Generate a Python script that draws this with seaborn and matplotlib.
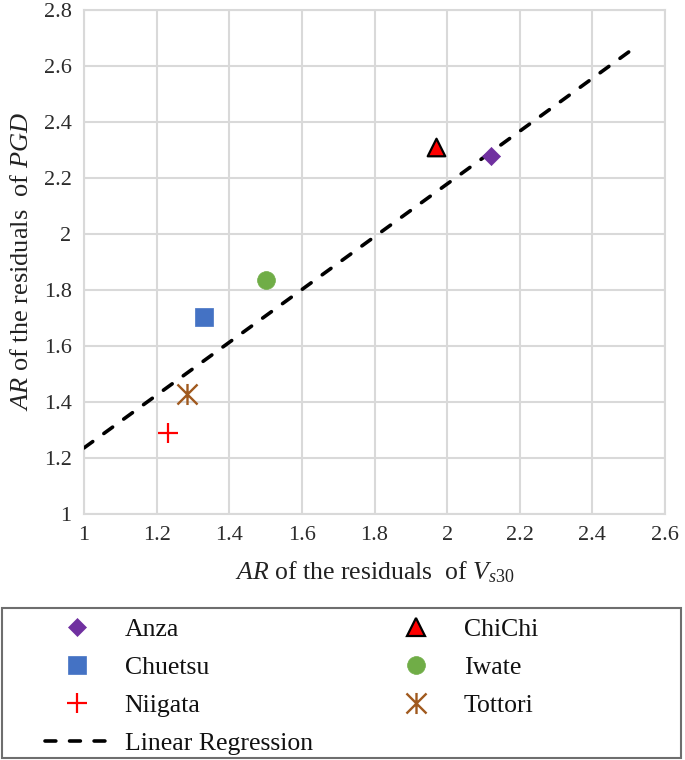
import numpy as np
import pandas as pd
import matplotlib
matplotlib.use("Agg")
import matplotlib.pyplot as plt
from matplotlib.path import Path
from matplotlib.patches import Rectangle
from matplotlib.lines import Line2D
from matplotlib.ticker import FormatStrFormatter
import seaborn as sns

# ---- data ----
events = ["Anza", "ChiChi", "Chuetsu", "Iwate", "Niigata", "Tottori"]
ar_vs30 = [2.12, 1.97, 1.33, 1.50, 1.23, 1.285]
ar_pgd = [2.28, 2.31, 1.705, 1.835, 1.29, 1.43]
reg_x = [1.0, 2.5]
reg_y = [1.236, 2.65]
x_ticks = [1.0, 1.2, 1.4, 1.6, 1.8, 2.0, 2.2, 2.4, 2.6]
y_ticks = [1.0, 1.2, 1.4, 1.6, 1.8, 2.0, 2.2, 2.4, 2.6, 2.8]
legend_order = ["Anza", "Chuetsu", "Niigata", "Linear Regression", "ChiChi", "Iwate", "Tottori"]

# ---- styles ----
star_path = Path([(-1, -1), (1, 1), (-1, 1), (1, -1), (0, -1.05), (0, 1.05)],
                 [Path.MOVETO, Path.LINETO, Path.MOVETO, Path.LINETO, Path.MOVETO, Path.LINETO])
styles = {
    "Anza":    dict(marker="D", color="#7030A0", edgecolor="#7030A0", s=85, linewidth=0.5),
    "ChiChi":  dict(marker="^", color="#FF0000", edgecolor="#000000", s=160, linewidth=1.6),
    "Chuetsu": dict(marker="s", color="#4472C4", edgecolor="#4472C4", s=160, linewidth=0.5),
    "Iwate":   dict(marker="o", color="#70AD47", edgecolor="#70AD47", s=165, linewidth=0.5),
    "Niigata": dict(marker="+", color="#FF0000", edgecolor="#FF0000", s=200, linewidth=1.6),
    "Tottori": dict(marker=star_path, color="#A0591E", edgecolor="#A0591E", s=230, linewidth=1.7),
}

sns.set_style("white")
plt.rcParams["font.family"] = ["Liberation Serif", "DejaVu Serif"]
plt.rcParams["mathtext.fontset"] = "custom"
plt.rcParams["mathtext.rm"] = "Liberation Serif"
plt.rcParams["mathtext.it"] = "Liberation Serif:italic"

fig = plt.figure(figsize=(6.85, 7.6), dpi=100)
ax = fig.add_axes([84 / 685, 1 - 514 / 760, (665 - 84) / 685, (514 - 10) / 760])

df = pd.DataFrame({"event": events, "x": ar_vs30, "y": ar_pgd})

# regression line
sns.lineplot(x=reg_x, y=reg_y, ax=ax, color="black", linewidth=2.6,
             linestyle=(0, (3.0, 3.796)), dash_capstyle="round",
             label="Linear Regression", zorder=3)

for ev in events:
    sub = df[df["event"] == ev]
    st = styles[ev]
    sns.scatterplot(data=sub, x="x", y="y", ax=ax, marker=st["marker"],
                    color=st["color"], edgecolor=st["edgecolor"], s=st["s"],
                    linewidth=st["linewidth"], label=ev, zorder=4, legend=False)

ax.set_xlim(1.0, 2.6)
ax.set_ylim(1.0, 2.8)
ax.set_xticks(x_ticks)
ax.set_yticks(y_ticks)
ax.xaxis.set_major_formatter(FormatStrFormatter("%g"))
ax.yaxis.set_major_formatter(FormatStrFormatter("%g"))
ax.grid(True, color="#D9D9D9", linewidth=1.5)
ax.set_axisbelow(True)
for sp in ax.spines.values():
    sp.set_color("#D9D9D9")
    sp.set_linewidth(1.5)
ax.tick_params(axis="both", length=0, labelsize=16, colors="#2b2b2b")
ax.tick_params(axis="y", pad=9)
ax.tick_params(axis="x", pad=9)

ax.set_xlabel(r"$\mathit{AR}$ of the residuals  of $\mathit{V}_{\mathit{s30}}$",
              fontsize=18.5, labelpad=10, color="#222222")
ax.set_ylabel(r"$\mathit{AR}$ of the residuals  of $\mathit{PGD}$",
              fontsize=19, labelpad=8, color="#222222")
if ax.get_legend() is not None:
    ax.get_legend().remove()

# legend
h, l = ax.get_legend_handles_labels()
hd = dict(zip(l, h))
proxies = {}
for ev in events:
    st = styles[ev]
    proxies[ev] = Line2D([], [], linestyle="none", marker=st["marker"],
                         markerfacecolor=st["color"], markeredgecolor=st["edgecolor"],
                         markersize=np.sqrt(st["s"]), markeredgewidth=st["linewidth"],
                         color=st["color"])
proxies["Linear Regression"] = hd["Linear Regression"]
handles = [proxies[k] for k in legend_order]

fig.legend(handles, legend_order, loc="upper left",
           bbox_to_anchor=(45 / 685, 1 - 618 / 760), ncol=2, frameon=False,
           fontsize=18.5, handlelength=2.5, handletextpad=0.6, columnspacing=2.77,
           labelspacing=0.58, borderpad=0, borderaxespad=0, labelcolor="#111111")

fig.patches.append(Rectangle((1.5 / 685, 2 / 760), 679.5 / 685, 150 / 760,
                             transform=fig.transFigure, fill=False,
                             edgecolor="#6E6E6E", linewidth=1.5))

fig.savefig("out.png", dpi=100)
